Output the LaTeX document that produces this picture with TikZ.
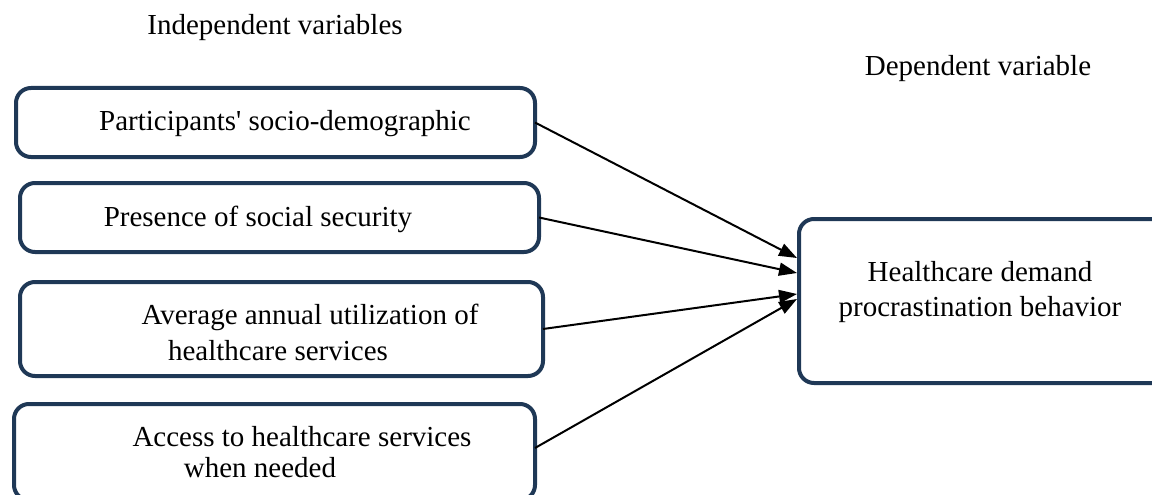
\documentclass[tikz,border=0pt]{standalone}
\usepackage{fontspec}
\setmainfont{Liberation Serif}
\usetikzlibrary{arrows.meta}
\definecolor{boxblue}{RGB}{31,56,86}
\begin{document}
\begin{tikzpicture}[x=1pt,y=-1pt,
  varbox/.style={draw=boxblue,line width=4pt,rounded corners=15pt,anchor=north west,inner sep=0pt,outer sep=0pt},
  lbl/.style={anchor=base,inner sep=0pt,font=\fontsize{29}{35}\selectfont},
  link/.style={line width=2pt,-{Triangle[length=18pt,width=13pt]}}]
\useasboundingbox (0,0) rectangle (1152,495);
\node[lbl] (ti) at (275,35) {Independent variables};
\node[lbl] (td) at (978,76) {Dependent variable};
\node[varbox,minimum width=519pt,minimum height=69pt] (b1) at (16,88) {};
\node[varbox,minimum width=519pt,minimum height=69pt] (b2) at (20,183) {};
\node[varbox,minimum width=523pt,minimum height=94pt] (b3) at (20,282) {};
\node[varbox,minimum width=521pt,minimum height=96pt] (b4) at (14,404) {};
\node[varbox,minimum width=370pt,minimum height=164pt] (r) at (799,219) {};
\node[lbl] (t1) at (285,131) {Participants\textquotesingle{} socio-demographic};
\node[lbl] (t2) at (258,226) {Presence of social security};
\node[lbl] (t3a) at (310,324) {Average annual utilization of};
\node[lbl] (t3b) at (278,360) {healthcare services};
\node[lbl] (t4a) at (302,446) {Access to healthcare services};
\node[lbl] (t4b) at (260,477) {when needed};
\node[lbl] (tr1) at (980,281) {Healthcare demand};
\node[lbl] (tr2) at (980,316) {procrastination behavior};
\coordinate (e1) at (797,258);
\coordinate (e2) at (797,273);
\coordinate (e3) at (797,294);
\coordinate (e4) at (797,299);
\draw[link] (b1.east) -- (e1);
\draw[link] (b2.east) -- (e2);
\draw[link] (b3.east) -- (e3);
\draw[link] ([yshift=4pt]b4.east) -- (e4);
\end{tikzpicture}
\end{document}
